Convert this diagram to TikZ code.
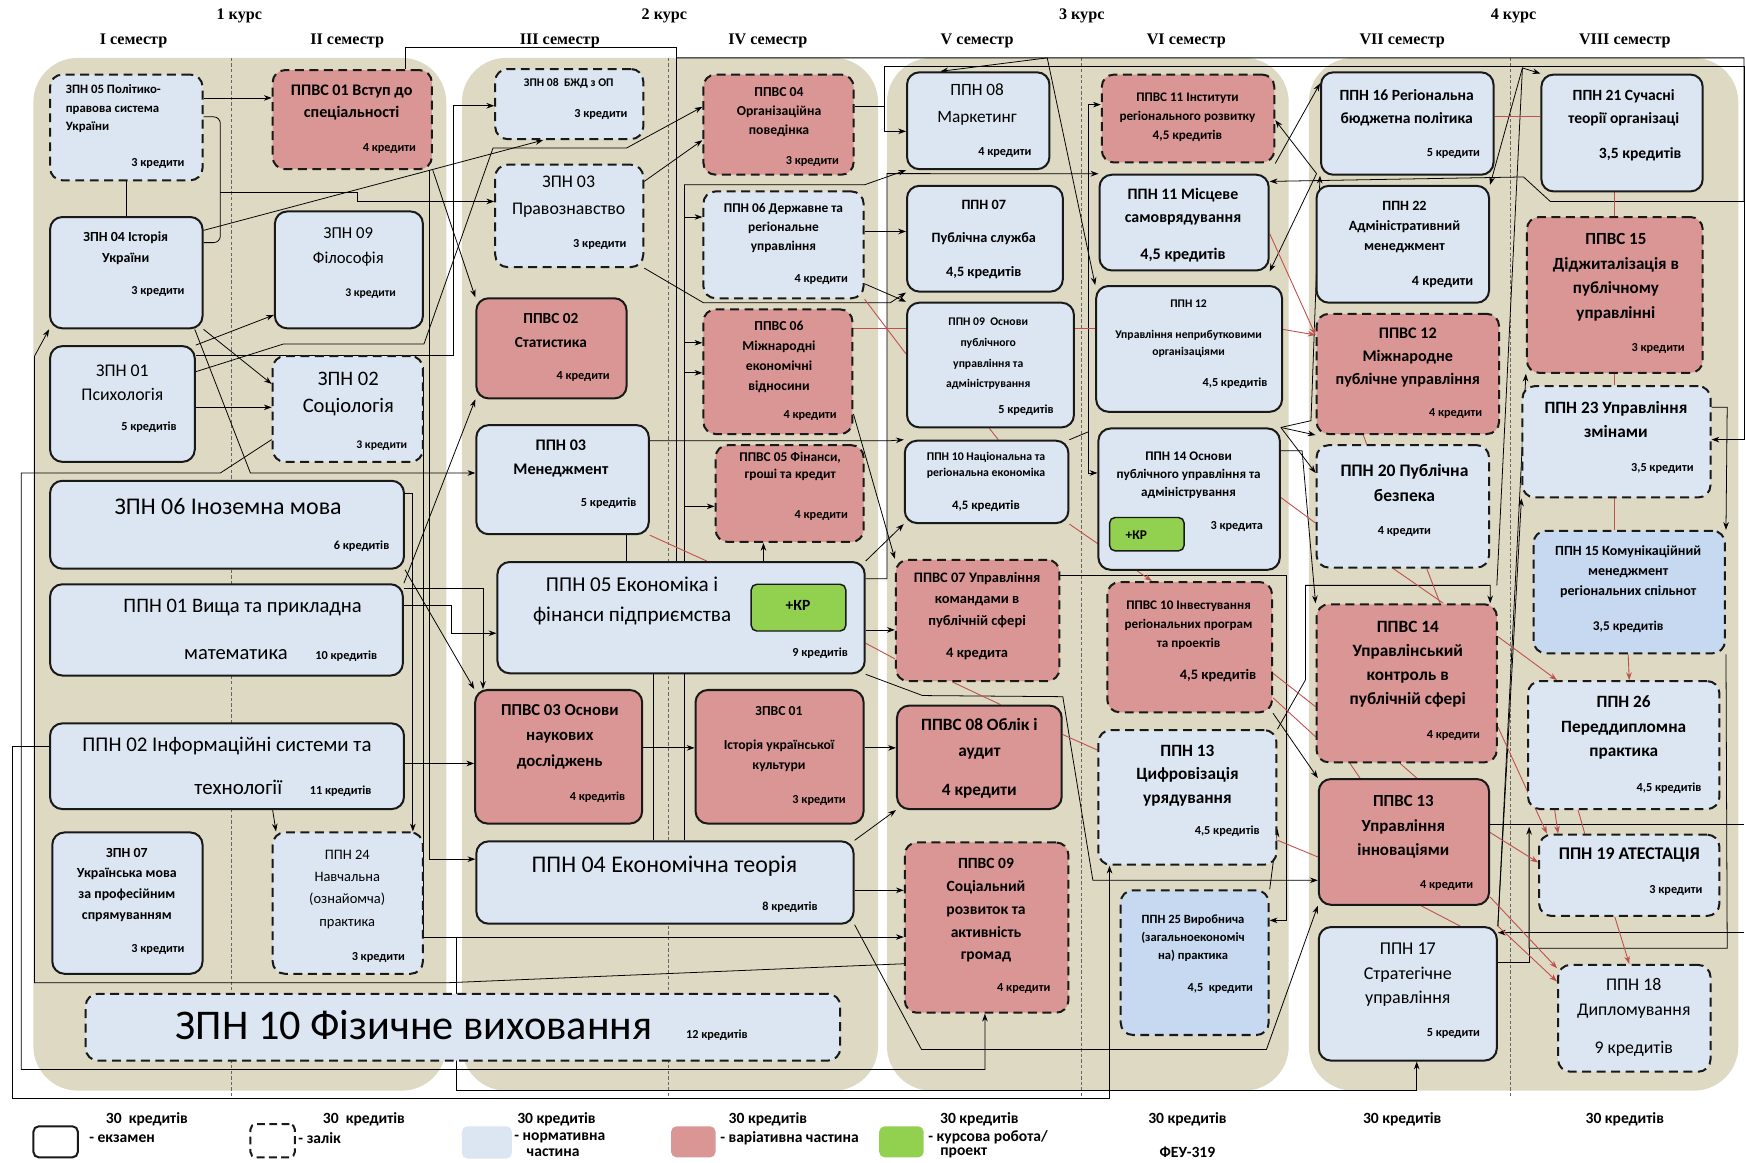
\documentclass[tikz,border=0pt]{standalone}
\usepackage{fontspec}
\setmainfont{Carlito}
\newfontfamily\hdr{Liberation Serif}
\usetikzlibrary{fit,arrows.meta}
\definecolor{panelc}{HTML}{DDD9C3}
\definecolor{nblue}{HTML}{DCE6F2}
\definecolor{nbluetwo}{HTML}{C6D9F1}
\definecolor{vred}{HTML}{D99694}
\definecolor{grn}{HTML}{92D050}
\definecolor{redl}{HTML}{C0504D}
\newcommand{\fz}[2]{\fontsize{#1}{#2}\selectfont}
\newcommand{\subj}[7]{%
  \node[#2, fit={#3}] (#1) {};
  \node[ttl, #4] (#1t) {#5};
  \node[crd, #6] (#1c) {#7};}
\pgfdeclarelayer{bg}\pgfdeclarelayer{mid}\pgfsetlayers{bg,mid,main}
\tikzset{
  box/.style={line width=1.8pt, rounded corners=11pt, inner sep=0pt, draw=black!90},
  ex/.style={box},
  zal/.style={box, dash pattern=on 8pt off 5pt},
  nb/.style={fill=nblue}, nbb/.style={fill=nbluetwo}, vr/.style={fill=vred},
  kr/.style={draw=black!90, line width=1.3pt, rounded corners=5pt, fill=grn, inner sep=0pt},
  ttl/.style={inner sep=0pt, align=center},
  crd/.style={anchor=east, inner sep=0pt, font={\bfseries\fz{11}{12}}},
  hd/.style={inner sep=0pt, font={\hdr\bfseries\fz{14.5}{16}}},
  lgt/.style={inner sep=0pt, font={\bfseries\fz{14}{16}}},
  ln/.style={draw=black, line width=0.7pt},
  ar/.style={ln, -{Stealth[length=7pt,width=5pt]}},
  rd/.style={draw=redl, line width=0.8pt},
  rda/.style={rd, -{Stealth[length=7pt,width=5pt]}},
  sep/.style={draw=black!60, line width=0.8pt, dash pattern=on 3pt off 2pt},
}
\begin{document}
\begin{tikzpicture}[x=1pt,y=-1pt]
\useasboundingbox (0,0) rectangle (1568,1045);
\begin{pgfonlayer}{bg}
\fill[white] (0,0) rectangle (1568,1045);
\fill[panelc, rounded corners=40pt] (30,52) rectangle (401,980);
\fill[panelc, rounded corners=40pt] (415,52) rectangle (789,980);
\fill[panelc, rounded corners=40pt] (797,52) rectangle (1158,980);
\fill[panelc, rounded corners=40pt] (1176,52) rectangle (1562,980);
\draw[sep] (208,52) -- (208,985);
\draw[sep] (601,52) -- (601,985);
\draw[sep] (972,52) -- (972,985);
\draw[sep] (1357,52) -- (1357,985);
\end{pgfonlayer}

% headers
\node[hd] (hk1) at (215,14) {1 курс};
\node[hd] (hk2) at (597,14) {2 курс};
\node[hd] (hk3) at (972,14) {3 курс};
\node[hd] (hk4) at (1360,14) {4 курс};
\node[hd] (hs1) at (120,37) {I семестр};
\node[hd] (hs2) at (312,37) {II семестр};
\node[hd] (hs3) at (503,37) {III семестр};
\node[hd] (hs4) at (690,37) {IV семестр};
\node[hd] (hs5) at (878,37) {V семестр};
\node[hd] (hs6) at (1066,37) {VI семестр};
\node[hd] (hs7) at (1260,37) {VII семестр};
\node[hd] (hs8) at (1460,37) {VIII семестр};

% column I / II
\subj{zpn05}{zal,nb}{(45,67) (182,162)}{at={(59,76)}, anchor=north west, align=left, font={\bfseries\fz{11.5}{16.5}}}{ЗПН 05 Політико-\\правова система\\України}{at={(166,147)}}{3 кредити}
\subj{zpn04}{ex,nb}{(45,195) (182,295)}{at={(113,223)}, font={\bfseries\fz{12.5}{18.5}}}{ЗПН 04 Історія\\України}{at={(166,262)}}{3 кредити}
\subj{zpn01}{ex,nb}{(45,311) (175,415)}{at={(110,344)}, font={\fz{16}{22}}}{ЗПН 01\\Психологія}{at={(159,384)}}{5 кредитів}
\subj{zpn06}{ex,nb}{(45,432) (363,511)}{at={(205,455)}, font={\fz{21.5}{24}}}{ЗПН 06 Іноземна мова}{at={(350,491)}}{6 кредитів}
\subj{ppn01}{ex,nb}{(45,525) (362,607)}{at={(218,546)}, font={\fz{18.5}{22}}}{ППН 01 Вища та прикладна}{at={(339,593)}, anchor=base east}{{\mdseries\fz{18.5}{22}математика}\hspace{25pt}10 кредитів}
\subj{ppn02}{ex,nb}{(45,650) (363,727)}{at={(204,670)}, font={\fz{18.8}{22}}}{ППН 02 Інформаційні системи та}{at={(334,714)}, anchor=base east}{{\mdseries\fz{18.8}{22}технології}\hspace{25pt}11 кредитів}
\subj{zpn07}{ex,nb}{(47,748) (182,875)}{at={(114,795)}, font={\bfseries\fz{12.5}{18.5}}}{ЗПН 07\\Українська мова\\за професійним\\спрямуванням}{at={(166,853)}}{3 кредити}
\subj{ppvs01}{zal,vr}{(245,63) (388,152)}{at={(316,92)}, font={\bfseries\fz{14.5}{20}}}{ППВС 01 Вступ до\\спеціальності}{at={(374,133)}}{4 кредити}
\subj{zpn09}{ex,nb}{(247,190) (380,295)}{at={(313,222)}, font={\fz{15}{22.5}}}{ЗПН 09\\Філософія}{at={(356,264)}, font={\bfseries\fz{10.5}{11}}}{3 кредити}
\subj{zpn02}{zal,nb}{(245,320) (380,415)}{at={(313,354)}, font={\fz{18.5}{25}}}{ЗПН 02\\Соціологія}{at={(366,400)}, font={\bfseries\fz{10.5}{11}}}{3 кредити}
\subj{ppn24}{zal,nb}{(245,748) (380,875)}{at={(312,799)}, font={\fz{13}{20}}}{ППН 24\\Навчальна\\(ознайомча)\\практика}{at={(364,860)}}{3 кредити}
\subj{zpn10}{zal,nb}{(77,893) (755,953)}{at={(372,921)}, font={\fz{38}{42}}}{ЗПН 10 Фізичне виховання}{at={(672,930)}}{12 кредитів}

% column III
\subj{zpn08}{zal,nb}{(445,62) (578,125)}{at={(511,75)}, font={\bfseries\fz{10.5}{12}}}{ЗПН 08\ \ БЖД з ОП}{at={(564,103)}}{3 кредити}
\subj{zpn03}{zal,nb}{(445,148) (578,240)}{at={(511,177)}, font={\fz{16}{24}}}{ЗПН 03\\Правознавство}{at={(563,220)}}{3 кредити}
\subj{ppvs02}{ex,vr}{(428,268) (563,358)}{at={(495,297)}, font={\bfseries\fz{13.8}{22}}}{ППВС 02\\Статистика}{at={(548,338)}}{4 кредити}
\subj{ppn03}{ex,nb}{(428,382) (583,480)}{at={(504,412)}, font={\bfseries\fz{14.5}{21}}}{ППН 03\\Менеджмент}{at={(572,452)}}{5 кредитів}
\subj{ppn05}{ex,nb}{(447,505) (777,605)}{at={(568,540)}, font={\fz{19}{27}}}{ППН 05 Економіка і\\фінанси підприємства}{at={(762,587)}}{9 кредитів}
\node[kr, fit={(675,525) (760,567)}] (kr1) {};
\node[ttl, font={\bfseries\fz{14}{16}}] (kr1t) at (717,544) {+КР};
\subj{ppvs03}{ex,vr}{(427,620) (577,740)}{at={(503,662)}, font={\bfseries\fz{15}{23}}}{ППВС 03 Основи\\наукових\\досліджень}{at={(562,716)}}{4 кредитів}
\subj{ppn04}{ex,nb}{(428,756) (767,830)}{at={(597,778)}, font={\fz{21.5}{24}}}{ППН 04 Економічна теорія}{at={(735,815)}}{8 кредитів}

% column IV
\subj{ppvs04}{zal,vr}{(632,67) (767,157)}{at={(700,101)}, font={\bfseries\fz{12.3}{17}}}{ППВС 04\\Організаційна\\поведінка}{at={(754,145)}}{3 кредити}
\subj{ppn06}{zal,nb}{(632,172) (776,268)}{at={(704,205)}, font={\bfseries\fz{12}{17}}}{ППН 06 Державне та\\регіональне\\управління}{at={(762,251)}}{4 кредити}
\subj{ppvs06}{zal,vr}{(632,278) (766,390)}{at={(700,321)}, font={\bfseries\fz{12.3}{18}}}{ППВС 06\\Міжнародні\\економічні\\відносини}{at={(752,373)}}{4 кредити}
\subj{ppvs05}{zal,vr}{(643,400) (776,487)}{at={(710,419)}, font={\bfseries\fz{12}{15.5}}}{ППВС 05 Фінанси,\\гроші та кредит}{at={(762,463)}}{4 кредити}
\subj{zpvs01}{ex,vr}{(625,620) (776,740)}{at={(700,664)}, font={\bfseries\fz{12.3}{18}}}{ЗПВС 01\\[13pt]Історія української\\культури}{at={(760,719)}}{3 кредити}

% column V
\subj{ppn08}{ex,nb}{(815,65) (943,152)}{at={(878,94)}, font={\fz{15.5}{24}}}{ППН 08\\Маркетинг}{at={(927,137)}}{4 кредити}
\subj{ppn07}{ex,nb}{(815,167) (955,262)}{at={(884,215)}, font={\bfseries\fz{12.8}{30}}}{ППН 07\\Публічна служба\\4,5 кредитів}{}{}
\subj{ppn09}{ex,nb}{(815,272) (965,384)}{at={(888,318)}, font={\bfseries\fz{10.5}{18.5}}}{ППН 09\ \ Основи\\публічного\\управління та\\адміністрування}{at={(947,369)}}{5 кредитів}
\subj{ppn10}{ex,nb}{(813,396) (960,470)}{at={(886,418)}, font={\bfseries\fz{10.6}{15}}}{ППН 10 Національна та\\регіональна економіка}{at={(886,455)}, anchor=center, font={\bfseries\fz{11.5}{12}}}{4,5 кредитів}
\subj{ppvs07}{zal,vr}{(805,503) (952,612)}{at={(878,539)}, font={\bfseries\fz{13}{19.5}}}{ППВС 07 Управління\\командами в\\публічній сфері}{at={(878,588)}, anchor=center, font={\bfseries\fz{13}{14}}}{4 кредита}
\subj{ppvs08}{ex,vr}{(806,634) (954,727)}{at={(880,664)}, font={\bfseries\fz{15.5}{24}}}{ППВС 08 Облік і\\аудит}{at={(880,711)}, anchor=center, font={\bfseries\fz{15.5}{16}}}{4 кредити}
\subj{ppvs09}{zal,vr}{(813,757) (960,910)}{at={(886,818)}, font={\bfseries\fz{14}{20.5}}}{ППВС 09\\Соціальний\\розвиток та\\активність\\громад}{at={(944,888)}}{4 кредити}

% column VI
\subj{ppvs11}{zal,vr}{(990,67) (1145,146)}{at={(1067,105)}, font={\bfseries\fz{11.8}{17}}}{ППВС 11 Інститути\\регіонального розвитку\\4,5 кредитів}{}{}
\subj{ppn11}{ex,nb}{(988,157) (1140,243)}{at={(1063,186)}, font={\bfseries\fz{14.3}{21}}}{ППН 11 Місцеве\\самоврядування}{at={(1063,229)}, anchor=center, font={\bfseries\fz{14.5}{15}}}{4,5 кредитів}
\subj{ppn12}{ex,nb}{(985,257) (1152,370)}{at={(1068,295)}, font={\bfseries\fz{10.5}{15}}}{ППН 12\\[13pt]Управління неприбутковими\\організаціями}{at={(1139,344)}}{4,5 кредитів}
\subj{ppn14}{ex,nb}{(987,385) (1150,512)}{at={(1068,427)}, font={\bfseries\fz{11.8}{16.5}}}{ППН 14 Основи\\публічного управління та\\адміністрування}{at={(1135,473)}}{3 кредита}
\node[kr, fit={(997,465) (1064,495)}] (kr2) {};
\node[ttl, font={\bfseries\fz{12}{13}}] (kr2t) at (1021,481) {+КР};
\subj{ppvs10}{zal,vr}{(995,523) (1143,640)}{at={(1068,562)}, font={\bfseries\fz{11.8}{17}}}{ППВС 10 Інвестування\\регіональних програм\\та проектів}{at={(1129,607)}, font={\bfseries\fz{13}{14}}}{4,5 кредитів}
\subj{ppn13}{zal,nb}{(987,656) (1147,777)}{at={(1067,697)}, font={\bfseries\fz{15.5}{21}}}{ППН 13\\Цифровізація\\урядування}{at={(1132,747)}}{4,5 кредитів}
\subj{ppn25}{zal,nbb}{(1007,800) (1140,930)}{at={(1072,843)}, font={\bfseries\fz{11.3}{16}}}{ППН 25 Виробнича\\(загальноекономіч\\на) практика}{at={(1126,888)}}{4,5\ \ кредити}

% column VII
\subj{ppn16}{ex,nb}{(1187,65) (1342,157)}{at={(1264,97)}, font={\bfseries\fz{14}{21}}}{ППН 16 Регіональна\\бюджетна політика}{at={(1330,138)}}{5 кредити}
\subj{ppn22}{ex,nb}{(1183,167) (1338,272)}{at={(1262,204)}, font={\bfseries\fz{12.7}{18}}}{ППН 22\\Адміністративний\\менеджмент}{at={(1324,253)}, font={\bfseries\fz{12.7}{13}}}{4 кредити}
\subj{ppvs12}{zal,vr}{(1183,282) (1347,390)}{at={(1265,321)}, font={\bfseries\fz{14.5}{20.5}}}{ППВС 12\\Міжнародне\\публічне управління}{at={(1332,372)}}{4 кредити}
\subj{ppn20}{zal,nb}{(1183,400) (1338,510)}{at={(1262,434)}, font={\bfseries\fz{15.8}{22}}}{ППН 20 Публічна\\безпека}{at={(1262,478)}, anchor=center}{4 кредити}
\subj{ppvs14}{zal,vr}{(1183,543) (1345,685)}{at={(1265,597)}, font={\bfseries\fz{15.5}{21.5}}}{ППВС 14\\Управлінський\\контроль в\\публічній сфері}{at={(1330,661)}}{4 кредити}
\subj{ppvs13}{ex,vr}{(1185,700) (1338,813)}{at={(1261,743)}, font={\bfseries\fz{15.2}{22}}}{ППВС 13\\Управління\\інноваціями}{at={(1324,796)}}{4 кредити}
\subj{ppn17}{ex,nb}{(1185,833) (1345,953)}{at={(1265,876)}, font={\fz{16.2}{22}}}{ППН 17\\Стратегічне\\управління}{at={(1330,929)}}{5 кредити}

% column VIII
\subj{ppn21}{ex,nb}{(1385,67) (1530,172)}{at={(1459,97)}, font={\bfseries\fz{14}{21}}}{ППН 21 Сучасні\\теорії організаці}{at={(1511,139)}, font={\bfseries\fz{14}{15}}}{3,5 кредитів}
\subj{ppvs15}{zal,vr}{(1372,195) (1530,335)}{at={(1452,249)}, font={\bfseries\fz{15.3}{22}}}{ППВС 15\\Діджиталізація в\\публічному\\управлінні}{at={(1514,313)}}{3 кредити}
\subj{ppn23}{zal,nb}{(1368,347) (1537,447)}{at={(1452,377)}, font={\bfseries\fz{15.5}{21}}}{ППН 23 Управління\\змінами}{at={(1522,421)}}{3,5 кредити}
\subj{ppn15}{zal,nbb}{(1378,477) (1550,587)}{at={(1463,514)}, font={\bfseries\fz{12.6}{18}}}{ППН 15 Комунікаційний\\менеджмент\\регіональних спільнот}{at={(1463,563)}, anchor=center, font={\bfseries\fz{12}{13}}}{3,5 кредитів}
\subj{ppn26}{zal,nb}{(1373,612) (1545,727)}{at={(1459,654)}, font={\bfseries\fz{15.5}{22}}}{ППН 26\\Переддипломна\\практика}{at={(1529,708)}}{4,5 кредитів}
\subj{ppn19}{zal,nb}{(1383,750) (1545,823)}{at={(1464,768)}, font={\bfseries\fz{16}{17}}}{ППН 19 АТЕСТАЦІЯ}{at={(1530,800)}}{3 кредити}
\subj{ppn18}{zal,nb}{(1400,867) (1537,963)}{at={(1468,897)}, font={\fz{16}{23}}}{ППН 18\\Дипломування}{at={(1468,942)}, anchor=center, font={\fz{16}{17}}}{9 кредитів}

% legend
\node[box, rounded corners=5pt, fit={(30,1012) (70,1040)}] (lg1) {};
\node[lgt] (lg1a) at (132,1006) {30\ \ кредитів};
\node[lgt, anchor=west] (lg1b) at (80,1023) {- екзамен};
\node[zal, rounded corners=5pt, dash pattern=on 7pt off 4pt, fit={(225,1010) (265,1040)}] (lg2) {};
\node[lgt] (lg2a) at (327,1006) {30\ \ кредитів};
\node[lgt, anchor=west] (lg2b) at (268,1023) {- залік};
\node[fill=nblue, rounded corners=5pt, inner sep=0pt, fit={(415,1012) (460,1041)}] (lg3) {};
\node[lgt] (lg3a) at (500,1006) {30 кредитів};
\node[lgt, anchor=west] (lg3b) at (462,1022) {- нормативна};
\node[lgt] (lg3c) at (497,1036) {частина};
\node[fill=vred, rounded corners=5pt, inner sep=0pt, fit={(603,1012) (643,1040)}] (lg4) {};
\node[lgt] (lg4a) at (690,1006) {30 кредитів};
\node[lgt, anchor=west] (lg4b) at (647,1023) {- варіативна частина};
\node[fill=grn, rounded corners=5pt, inner sep=0pt, fit={(790,1012) (830,1040)}] (lg5) {};
\node[lgt] (lg5a) at (880,1006) {30 кредитів};
\node[lgt, anchor=west] (lg5b) at (834,1022) {- курсова робота/};
\node[lgt] (lg5c) at (866,1036) {проект};
\node[lgt] (lg6a) at (1067,1006) {30 кредитів};
\node[lgt] (lg6b) at (1067,1035) {ФЕУ-319};
\node[lgt] (lg7a) at (1260,1006) {30 кредитів};
\node[lgt] (lg8a) at (1460,1006) {30 кредитів};

\coordinate (h1) at (1183,156);

\begin{pgfonlayer}{mid}
% column I-II
\draw[ar] (zpn05.east |- 0,88) -- (ppvs01.west |- 0,88);
\draw[ln] (zpn05.south) -- (zpn04.north);
\draw[ln, rounded corners=6pt] (zpn05.east |- 0,105) -- (198,105) -- (198,218) -- (zpn04.east |- 0,218);
\draw[ar] (198,173) -- (321,173) -- (321,181) -- (zpn03.west |- 0,181);
\draw[ar] (zpn04.east |- 0,207) -- (zpn08.south -| 488,0);
\draw[ar] (zpn04.south east) -- (zpn02.west |- 0,345);
\draw[ar] (zpn04.south -| 175,0) -- (225,425) -- (ppn03.west |- 0,425);
\draw[ar] (zpn01.north east) -- (zpn09.west |- 0,283);
\draw[ar] (zpn01.east |- 0,366) -- (zpn02.west |- 0,366);
\draw[ar] (zpn01.east |- 0,319) -- (407,319) -- (407,95) -- (zpn08.west |- 0,95);
\draw[ar] (zpn01.east |- 0,334) -- (255,309) -- (381,309) -- (443,133) -- (563,133) -- (ppvs04.west |- 0,96);
\draw[ar] (ppvs01.south east) -- (ppvs02.north west);
\draw[ln] (ppvs01.north -| 364,0) -- (364,43) -- (608,43) -- (ppn05.north -| 608,0);
\draw[ar] (608,52) -- (1567,52) -- (1567,181) -- (1393,181) -- (1369,159) -- (ppn11.east |- 0,163);
\draw[ar] (ppvs04.east |- 0,96) -- (795,96) -- (795,60) -- (1567,60) -- (1567,395) -- (ppn23.east |- 0,395);
\draw[ar] (795,96) -- (795,118) -- (ppn08.west |- 0,118);
\draw[ar] (941,52) -- (ppn12.north west);
\draw[ar] (941,52) -- (ppn08.north -| 845,0);
\draw[ar] (ppn03.east |- 0,396) -- (800,396) -- (ppn10.north west);
\draw[ar] (zpn06.east |- 0,443) -- (371,443) -- (ppn24.north -| 371,0);
\draw[ar] (ppvs01.south -| 386,0) -- (386,772) -- (ppn04.west |- 0,772);
\draw[ar] (zpn02.east |- 0,330) -- (380,330) -- (380,842) -- (ppvs09.west |- 0,842);
\draw[ar] (410,842) -- (410,980) -- (1273,980) -- (ppn17.south -| 1273,0);
\draw[ar] (ppvs09.west |- 0,866) -- (403,883) -- (31,883) -- (31,320) -- (zpn04.south west);
\draw[ar] (zpn02.west |- 0,395) -- (198,425) -- (19,425) -- (19,961) -- (885,961) -- (ppvs09.south -| 885,0);
\draw[ar] (ppn02.west |- 0,671) -- (11,671) -- (11,987) -- (997,987) -- (ppn13.south -| 997,0);
\draw[ar] (ppn02.south -| 245,0) -- (ppn24.north -| 248,0);
\draw[ar] (ppn02.east |- 0,686) -- (ppvs03.west |- 0,686);
\draw[ar] (zpn06.south east) -- (ppvs03.north west);
\draw[ar] (ppn01.east |- 0,529) -- (434,529) -- (ppvs03.north -| 434,0);
\draw[ar] (ppn01.east |- 0,544) -- (406,544) -- (406,569) -- (ppn05.west |- 0,569);
\draw[ar] (ppn01.north east) -- (ppvs02.south west);
% column III-IV
\draw[ar] (zpn03.east |- 0,163) -- (ppvs04.west |- 0,126);
\draw[ar] (zpn03.south east) -- (632,272) -- (800,272) -- (ppn07.south west);
\draw[ar] (ppn05.north -| 615,0) -- (615,166) -- (777,166) -- (ppn08.south west);
\draw[ar] (615,195) -- (ppn06.west |- 0,195);
\draw[ar] (615,308) -- (ppvs06.west |- 0,308);
\draw[ar] (615,335) -- (ppvs06.west |- 0,335);
\draw[ar] (615,455) -- (ppvs05.west |- 0,455);
\draw[ar] (ppn05.north -| 686,0) -- (ppvs05.south -| 686,0);
\draw[ln] (ppn04.north -| 587,0) -- (ppn05.south -| 587,0);
\draw[ln] (ppn04.north -| 615,0) -- (ppn05.south -| 615,0);
\draw[ln] (ppn03.south -| 563,0) -- (ppn05.north -| 563,0);
\draw[ar] (ppvs03.east |- 0,672) -- (zpvs01.west |- 0,672);
\draw[ar] (zpvs01.east |- 0,672) -- (ppvs08.west |- 0,672);
\draw[ar] (ppn04.north east) -- (ppvs08.south west);
\draw[ar] (ppn04.east |- 0,800) -- (ppvs09.west |- 0,800);
\draw[ar] (ppn04.south east) -- (828,943) -- (1138,943) -- (ppvs13.south west);
\draw[ar] (ppn05.east |- 0,566) -- (ppvs07.west |- 0,566);
\draw[ar] (ppn05.north east) -- (ppn10.south west);
\draw[ar] (ppn05.south east) -- (829,625) -- (955,626) -- (982,791) -- (ppvs13.west |- 0,791);
\draw[ar] (ppn06.east |- 0,208) -- (ppn07.west |- 0,208);
\draw[ar] (ppn06.east |- 0,255) -- (ppn09.north west);
\draw[ar] (ppvs06.east |- 0,372) -- (ppvs07.north west);
% column V-VI
\draw[ar] (ppn05.east |- 0,520) -- (797,520) -- (797,156) -- (ppn11.north west);
\draw[ln] (ppn10.north east) -- (978,388);
\draw[ar] (978,388) -- (978,94) -- (ppvs11.west |- 0,94);
\draw[ar] (978,388) -- (978,425) -- (ppn14.west |- 0,425);
\draw[ar] (ppvs07.east |- 0,517) -- (1156,517) -- (1156,827) -- (ppn25.east |- 0,827);
\draw[ar] (ppn25.north east) -- (ppn13.east |- 0,745);
\draw[ar] (ppvs11.south east) -- (ppn16.west |- 0,75);
\draw[ar] (h1) -- (ppvs11.east |- 0,108);
\draw[ar] (h1) -- (ppn11.south east);
\draw[ar] (ppn14.north east) -- (ppvs12.south west);
\draw[ar] (ppn14.north east) -- (ppn20.west |- 0,425);
\draw[ar] (ppn14.north east) -- (1178,378) -- (ppn16.south west);
\draw[ar] (ppn14.east |- 0,405) -- (1170,405) -- (ppvs14.north west);
\draw[ar] (ppvs10.south east) -- (ppvs13.north west);
\draw[ar] (ppn13.north east) -- (1173,611) -- (1173,526) -- (1339,526) -- (ppvs14.north -| 1339,0);
\draw[ar] (1345,526) -- (1368,61) -- (ppn21.north west);
\draw[ar] (1368,61) -- (ppn22.north east);
\draw[ar] (ppn17.north east) -- (ppvs15.south west);
\draw[ar] (ppn17.north east) -- (ppn23.south west);
\draw[ar] (1567,838) -- (ppn17.east |- 0,838);
\draw[ln] (ppvs13.east |- 0,741) -- (1567,741);
\draw[ar] (ppn15.south east) -- (1552,852) -- (1374,852) -- (1374,743);
\draw[ln] (ppn17.east |- 0,865) -- (1374,865) -- (1374,852);
\draw[ar] (ppn23.east |- 0,366) -- (1552,366) -- (ppn15.north east);
% red
\draw[rd] (ppn03.south east) -- (ppn05.north -| 635,0);
\draw[rd] (ppn05.east |- 0,578) -- (ppvs07.west |- 0,592);
\draw[rd] (ppn06.south east) -- (ppn09.west |- 0,318);
\draw[rd] (ppvs06.east |- 0,295) -- (ppn12.west |- 0,295);
\draw[rd] (ppn09.south -| 889,0) -- (ppn10.north -| 897,0);
\draw[rda] (ppn10.south east) -- (ppvs10.north -| 1035,0);
\draw[rd] (ppn14.east |- 0,447) -- (ppn20.west |- 0,470);
\draw[rd] (ppvs10.east |- 0,605) -- (ppvs14.west |- 0,635);
\draw[rd] (ppvs10.east |- 0,627) -- (ppvs14.west |- 0,662);
\draw[rd] (ppvs07.south -| 856,0) -- (ppvs08.north -| 899,0);
\draw[rd] (ppvs08.east |- 0,660) -- (ppn13.west |- 0,674);
\draw[rd] (ppn13.east |- 0,755) -- (ppvs13.west |- 0,770);
\draw[rda] (ppn11.east |- 0,210) -- (ppvs12.west |- 0,301);
\draw[rda] (ppn12.east |- 0,296) -- (ppvs12.west |- 0,301);
\draw[rd] (ppvs12.south -| 1225,0) -- (ppn20.north -| 1228,0);
\draw[rd] (ppn20.south -| 1252,0) -- (ppvs14.north -| 1297,0);
\draw[rd] (ppn20.south -| 1282,0) -- (ppvs14.north -| 1294,0);
\draw[rd] (ppvs14.south -| 1213,0) -- (ppvs13.north -| 1222,0);
\draw[rd] (ppvs14.south -| 1258,0) -- (ppvs13.north -| 1273,0);
\draw[rda] (ppvs14.east |- 0,572) -- (ppn26.north -| 1399,0);
\draw[rda] (ppn15.south -| 1463,0) -- (ppn26.north -| 1464,0);
\draw[rda] (ppvs14.east |- 0,653) -- (ppn19.north -| 1390,0);
\draw[rda] (ppn26.south -| 1397,0) -- (ppn19.north -| 1400,0);
\draw[rd] (ppn26.south -| 1418,0) -- (ppn19.north -| 1424,0);
\draw[rda] (ppvs13.east |- 0,748) -- (ppn19.west |- 0,775);
\draw[rda] (ppvs13.east |- 0,806) -- (ppn18.west |- 0,870);
\draw[rda] (ppn17.north east) -- (ppn18.west |- 0,882);
\draw[rd] (ppvs13.south -| 1277,0) -- (ppn17.north -| 1312,0);
\draw[rda] (ppn19.south -| 1451,0) -- (ppn18.north -| 1464,0);
\draw[rd] (ppn16.east |- 0,105) -- (ppn21.west |- 0,105);
\draw[rd] (ppn21.south -| 1451,0) -- (ppvs15.north -| 1451,0);
\draw[rd] (ppvs15.south -| 1451,0) -- (ppn23.north -| 1451,0);
\draw[rd] (ppn23.south -| 1451,0) -- (ppn15.north -| 1451,0);
\end{pgfonlayer}
\end{tikzpicture}
\end{document}
